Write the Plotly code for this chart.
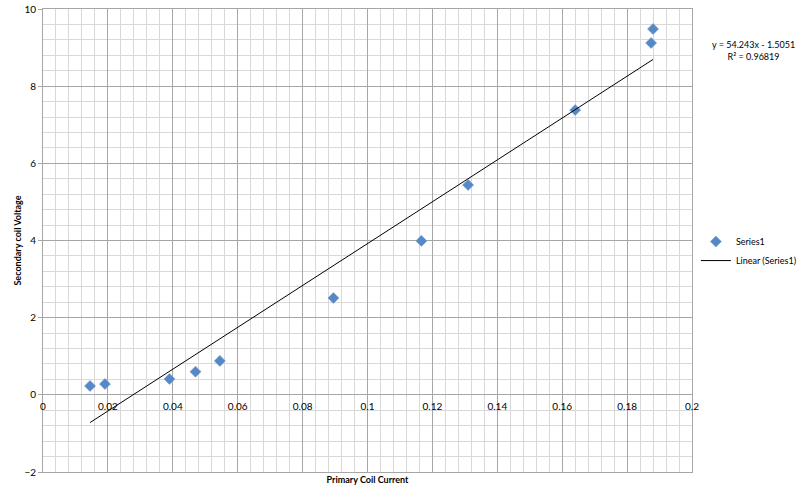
import plotly.graph_objects as go

# Data
current = [0.0145, 0.0191, 0.039, 0.047, 0.0545, 0.0895, 0.1166, 0.131, 0.164, 0.1874, 0.188]
voltage = [0.23, 0.28, 0.41, 0.60, 0.88, 2.51, 3.99, 5.44, 7.38, 9.12, 9.48]

slope = 54.243
intercept = -1.5051
r_squared = 0.96819

x_ticks = [0, 0.02, 0.04, 0.06, 0.08, 0.1, 0.12, 0.14, 0.16, 0.18, 0.2]
x_tick_labels = ["0", "0.02", "0.04", "0.06", "0.08", "0.1", "0.12", "0.14", "0.16", "0.18", "0.2"]
y_ticks = [-2, 0, 2, 4, 6, 8, 10]

trend_x = [min(current), max(current)]
trend_y = [slope * v + intercept for v in trend_x]

FONT = "Lato"
MAJOR = "#a6a6a6"
MINOR = "#d9d9d9"

fig = go.Figure()
fig.add_trace(go.Scatter(
    x=current, y=voltage, mode="markers", name="Series1",
    marker=dict(symbol="diamond", size=8.5, color="#5588c4",
                line=dict(color="#7aa3d6", width=0.6)),
))
fig.add_trace(go.Scatter(
    x=trend_x, y=trend_y, mode="lines", name="Linear (Series1)",
    line=dict(color="black", width=1),
))
# invisible trace to carry the tick-label axis positioned at y=0
fig.add_trace(go.Scatter(
    x=trend_x, y=trend_y, xaxis="x2", mode="lines", showlegend=False,
    hoverinfo="skip", line=dict(color="rgba(0,0,0,0)", width=0),
))

fig.update_layout(
    width=800, height=494,
    margin=dict(l=43, r=108, t=9, b=22, autoexpand=False),
    paper_bgcolor="white", plot_bgcolor="white",
    font=dict(family=FONT, color="black", size=10),
    xaxis=dict(
        range=[0, 0.2], tickvals=x_ticks, showticklabels=False, automargin=False,
        showgrid=True, gridcolor=MAJOR, gridwidth=1,
        minor=dict(dtick=0.004, showgrid=True, gridcolor=MINOR, gridwidth=1),
        showline=True, linecolor=MAJOR, mirror=True, zeroline=False,
        title=dict(text="<b>Primary Coil Current</b>", font=dict(size=9, family=FONT), standoff=4),
        ticks="",
    ),
    xaxis2=dict(
        range=[0, 0.2], overlaying="x", anchor="free", position=2/12, side="bottom",
        tickvals=x_ticks, ticktext=x_tick_labels, showgrid=False, zeroline=False,
        showline=False, ticks="", tickfont=dict(size=10, family=FONT), automargin=False,
        ticklabelstandoff=4,
    ),
    yaxis=dict(
        range=[-2, 10], tickvals=y_ticks, automargin=False,
        showgrid=True, gridcolor=MAJOR, gridwidth=1,
        minor=dict(dtick=0.4, showgrid=True, gridcolor=MINOR, gridwidth=1),
        showline=True, linecolor=MAJOR, mirror=True, zeroline=False,
        ticks="outside", ticklen=4, tickcolor=MAJOR,
        tickfont=dict(size=10, family=FONT),
        title=dict(text="<b>Secondary coil Voltage</b>", font=dict(size=9, family=FONT), standoff=1),
    ),
    legend=dict(x=1.006, y=0.529, xanchor="left", yanchor="top",
                font=dict(size=9, family=FONT), bgcolor="rgba(0,0,0,0)"),
    showlegend=True,
)

fig.add_annotation(
    xref="paper", yref="paper", x=1.094, y=0.911, xanchor="center", yanchor="middle",
    text=f"y = {slope}x - {abs(intercept)}<br>R² = {r_squared}", showarrow=False,
    font=dict(size=9, family=FONT), align="center",
)

fig.write_html("out.html", config={"displayModeBar": False},
               post_script="document.body.style.margin='0px';")
